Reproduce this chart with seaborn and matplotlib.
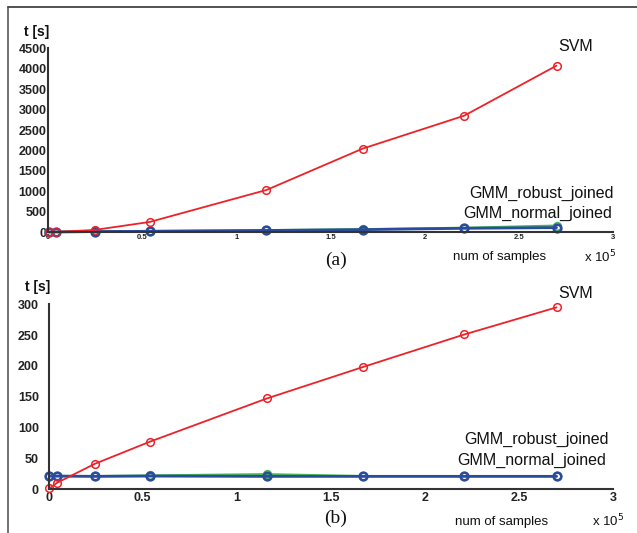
import numpy as np
import matplotlib
matplotlib.use("Agg")
import matplotlib.pyplot as plt
import seaborn as sns
from matplotlib.lines import Line2D

# number of training samples (same for both panels)
samples = [500, 4500, 24700, 54000, 116000, 167000, 221000, 270000]

# panel (a) timings, seconds
svm_a = [5, 10, 57, 253, 1035, 2045, 2852, 4075]
gmm_robust_a = [8, 10, 22, 30, 50, 75, 110, 163]
gmm_normal_a = [5, 8, 18, 25, 45, 65, 98, 114]

# panel (b) timings, seconds
svm_b = [1, 10, 41, 77, 147, 198, 251, 295]
gmm_robust_b = [21, 21, 21, 22, 24, 21, 21, 21]
gmm_normal_b = [21, 21, 20.5, 21, 20.5, 20.5, 20.5, 20.5]

x_ticks = [0, 0.5, 1, 1.5, 2, 2.5, 3]
x_tick_labels = ["0", "0.5", "1", "1.5", "2", "2.5", "3"]

RED = "#ec2229"
GREEN = "#45b755"
BLUE = "#2b4c9c"
AXIS = "#333333"
TEXT = "#111111"
SANS = ["Liberation Sans", "DejaVu Sans"]
SERIF = ["Liberation Serif", "DejaVu Serif"]

W, H = 637, 533

# line styles: (colour, line width, marker edge width)
STYLES = {
    "robust": (GREEN, 1.6, 1.2),
    "normal": (BLUE, 2.0, 1.9),
    "svm": (RED, 1.3, 1.1),
}


def px(x, y):
    return x / W, 1 - y / H


def draw_panel(ax, series, ymax, ystep, xtick_size, ytick_size):
    x = np.array(samples) / 1e5
    for values, key in series:
        color, lw, mew = STYLES[key]
        sns.lineplot(x=x, y=values, ax=ax, color=color, marker="o", markersize=5.5,
                     markerfacecolor="none", markeredgecolor=color,
                     markeredgewidth=mew, linewidth=lw, sort=False,
                     legend=False, clip_on=False)
    ax.set_xlim(0, 3)
    ax.set_ylim(0, ymax)
    ax.set_xticks(x_ticks)
    ax.set_xticklabels(x_tick_labels, fontsize=xtick_size, fontweight="bold", family=SANS)
    yt = np.arange(0, ymax + 1, ystep)
    ax.set_yticks(yt)
    ax.set_yticklabels([str(int(v)) for v in yt], fontsize=ytick_size,
                       fontweight="bold", family=SANS)
    ax.set_xlabel("")
    ax.set_ylabel("")
    for s in ["top", "right"]:
        ax.spines[s].set_visible(False)
    for s in ["left", "bottom"]:
        ax.spines[s].set_linewidth(1.5)
        ax.spines[s].set_color(AXIS)
    ax.tick_params(direction="in", length=4, width=1.2, colors=AXIS, labelcolor="#222222")
    ax.set_facecolor("white")


def label(ax, x, y, s, ha="center"):
    ax.text(x, y, s, fontsize=11.5, ha=ha, va="center", color=TEXT, family=SANS)


def main():
    sns.set_theme(style="white")
    plt.rcParams["font.family"] = SANS

    fig = plt.figure(figsize=(W / 100, H / 100), dpi=100)
    fig.patch.set_facecolor("white")

    # panel (a)
    ax_a = fig.add_axes([48 / W, 1 - 232.3 / H, 565 / W, 184 / H])
    draw_panel(ax_a, [(gmm_robust_a, "robust"), (gmm_normal_a, "normal"), (svm_a, "svm")],
               4500, 500, 5.5, 9)
    ax_a.tick_params(axis="x", pad=1.5)
    ax_a.tick_params(axis="y", pad=1)
    label(ax_a, 2.80, 4540, "SVM")
    label(ax_a, 3.005, 953, "GMM_robust_joined", ha="right")
    label(ax_a, 2.995, 464, "GMM_normal_joined", ha="right")
    fig.text(*px(36.7, 31.7), "t [s]", fontsize=10, fontweight="bold",
             ha="center", va="center", color=TEXT, family=SANS)
    fig.text(*px(500, 257), "num of samples", fontsize=9.5, ha="center", va="center",
             color=TEXT, family=SANS)
    fig.text(*px(600, 257), r"x 10$^5$", fontsize=9.5, ha="center", va="center",
             color=TEXT, family=SANS)
    fig.text(*px(336, 260), "(a)", fontsize=14, ha="center", va="center",
             family=SERIF, color=TEXT)

    # panel (b)
    ax_b = fig.add_axes([48.5 / W, 1 - 489 / H, 564.5 / W, 184.7 / H])
    draw_panel(ax_b, [(gmm_robust_b, "robust"), (gmm_normal_b, "normal"), (svm_b, "svm")],
               300, 50, 9, 9)
    ax_b.tick_params(axis="x", pad=2)
    ax_b.tick_params(axis="y", pad=7)
    label(ax_b, 2.80, 318, "SVM")
    label(ax_b, 2.976, 80, "GMM_robust_joined", ha="right")
    label(ax_b, 2.966, 47, "GMM_normal_joined", ha="right")
    fig.text(*px(37.3, 286.7), "t [s]", fontsize=10, fontweight="bold",
             ha="center", va="center", color=TEXT, family=SANS)
    fig.text(*px(501.7, 521.7), "num of samples", fontsize=9.5, ha="center", va="center",
             color=TEXT, family=SANS)
    fig.text(*px(608.5, 521), r"x 10$^5$", fontsize=9.5, ha="center", va="center",
             color=TEXT, family=SANS)
    fig.text(*px(336, 518), "(b)", fontsize=14, ha="center", va="center",
             family=SERIF, color=TEXT)

    # frame lines of the scanned figure
    fig.add_artist(Line2D([8 / W, 8 / W], [0, 1 - 7 / H], color="#666666", lw=1.3))
    fig.add_artist(Line2D([8 / W, 1], [1 - 7 / H, 1 - 7 / H], color="#444444", lw=1.3))

    fig.savefig("out.png", dpi=100)
    plt.close(fig)


if __name__ == "__main__":
    main()
